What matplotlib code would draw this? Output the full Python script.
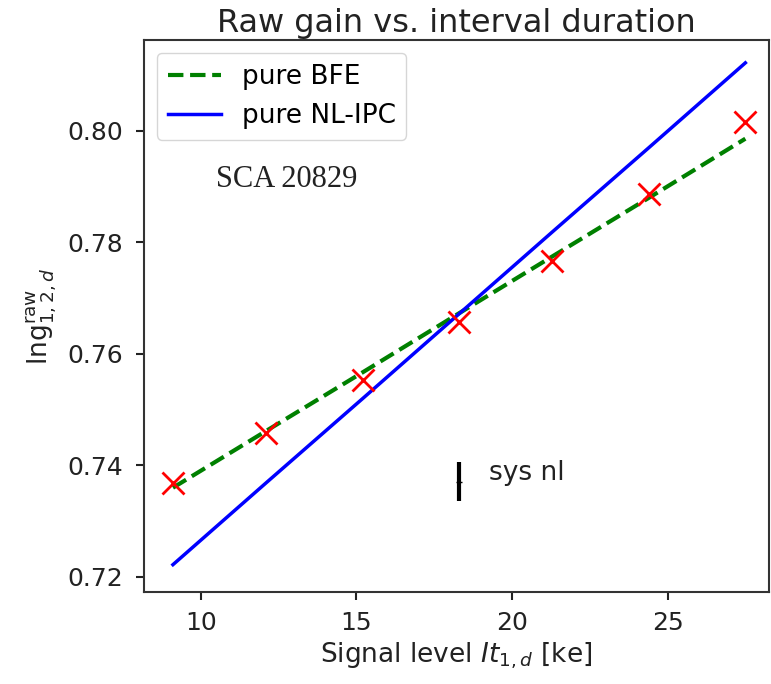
import numpy as np
import matplotlib
matplotlib.use("Agg")
import matplotlib.pyplot as plt

# signal level (ke) and measured raw gain
signal = [9.1, 12.1, 15.2, 18.3, 21.3, 24.4, 27.5]
lng_raw = [0.7369, 0.7459, 0.7553, 0.7657, 0.7766, 0.7886, 0.8016]

# model curves at the same signal levels
bfe_model = [0.7360, 0.7462, 0.7567, 0.7673, 0.7775, 0.7880, 0.7986]
ipc_model = [0.7222, 0.7369, 0.7520, 0.7672, 0.7819, 0.7970, 0.8122]

# systematic nonlinearity error bar
sys_x = 18.3
sys_y = 0.7371
sys_err = 0.0035

fig = plt.figure(figsize=(7.71, 6.84), dpi=100)
ax = fig.add_axes([144 / 771, 1 - 592 / 684, 625 / 771, 552 / 684])

ax.plot(signal, bfe_model, 'g--', lw=3, label='pure BFE')
ax.plot(signal, ipc_model, 'b-', lw=2.5, label='pure NL-IPC')
ax.plot(signal, lng_raw, 'rx', ms=16, mew=2)
ax.errorbar([sys_x], [sys_y], yerr=[sys_err], fmt='k_', ms=4, lw=3, capsize=0)
ax.text(sys_x + 0.95, sys_y + 0.0003, 'sys nl', fontsize=19, color='#222222')
ax.text(10.5, 0.7913, 'SCA 20829', fontsize=22, family='Liberation Serif',
        va='center', color='#222222')

ax.set_xlim(8.17, 28.26)
ax.set_ylim(0.7173, 0.8163)
ax.set_xticks([10, 15, 20, 25])
ax.set_yticks([0.72, 0.74, 0.76, 0.78, 0.80])
ax.tick_params(labelsize=18, length=6, width=1.5, colors='#222222')
ax.tick_params(axis='y', pad=9)
ax.tick_params(axis='x', pad=8)
for s in ax.spines.values():
    s.set_linewidth(1.5)
    s.set_color('#333333')

ax.set_xlabel(r'Signal level $It_{1,d}$ [ke]', fontsize=19, color='#222222')
ax.set_ylabel(r'$\mathrm{lng}^{\mathrm{raw}}_{1,2,d}$', fontsize=19,
              labelpad=6, color='#222222')
ax.set_title('Raw gain vs. interval duration', fontsize=23, color='#222222')
ax.legend(loc='upper left', fontsize=19, handlelength=2)

fig.savefig('out.png', dpi=100)
